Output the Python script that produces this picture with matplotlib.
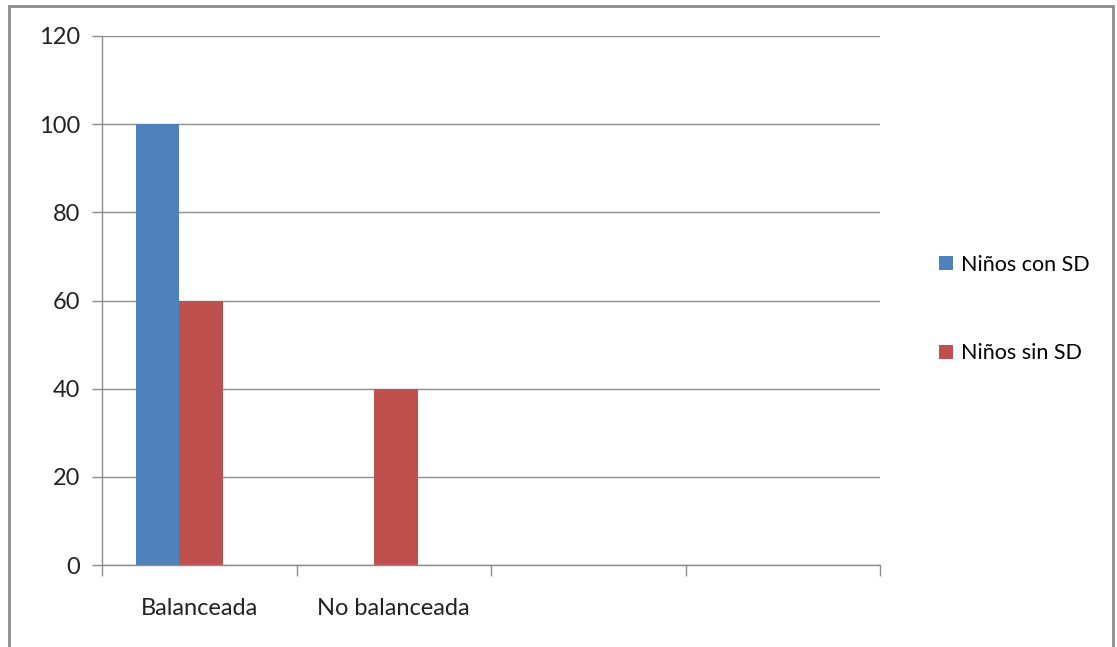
import numpy as np
import matplotlib.pyplot as plt
from matplotlib.patches import Rectangle

categories = ["Balanceada", "No balanceada", "", ""]
con_sd = [100, 0, 0, 0]
sin_sd = [60, 40, 0, 0]
series_names = ["Niños con SD", "Niños sin SD"]
yticks = [0, 20, 40, 60, 80, 100, 120]

blue = "#4f81bd"
red = "#c0504d"
grey = "#8c8c8c"

plt.rcParams['font.family'] = ['Lato', 'DejaVu Sans']

fig = plt.figure(figsize=(11.17, 6.47), dpi=100)
W, H = 1117, 647
ax = fig.add_axes([102 / W, 1 - 565 / H, (880 - 102) / W, (565 - 36) / H])

x = np.arange(len(categories))
w = 0.225
b1 = ax.bar(x - w + 0.01, con_sd, w, color=blue, align='center', label=series_names[0])
b2 = ax.bar(x + 0.01, sin_sd, w, color=red, align='center', label=series_names[1])

ax.set_xlim(-0.5, len(categories) - 0.5)
ax.set_ylim(0, 120)
ax.set_yticks(yticks)
ax.set_yticklabels([str(v) for v in yticks], fontsize=17, color="#222222")
ax.yaxis.grid(True, color=grey, lw=1)
ax.set_axisbelow(True)

# category ticks on boundaries, labels centered
ax.set_xticks(np.arange(len(categories) + 1) - 0.5)
ax.set_xticklabels([])
ax.set_xticks(x, minor=True)
ax.set_xticklabels(categories, minor=True, fontsize=17, color="#222222")
ax.tick_params(axis='x', which='minor', length=0, pad=24)
ax.tick_params(axis='x', which='major', length=8, color=grey, width=1)
ax.tick_params(axis='y', length=7, color=grey, width=1, pad=9)

for s in ['top', 'right']:
    ax.spines[s].set_visible(False)
for s in ['left', 'bottom']:
    ax.spines[s].set_color(grey)
    ax.spines[s].set_linewidth(1)

fig.legend(handles=[b1, b2], labels=series_names, loc='center left',
           bbox_to_anchor=(928 / W, 1 - 309 / H), frameon=False, fontsize=15.5,
           handlelength=0.65, handleheight=0.65, handletextpad=0.4,
           labelspacing=3.2, borderpad=0)

fig.patches.append(Rectangle((9 / W, -0.1), (1113 - 9) / W, 1 - 6 / H + 0.1,
                             transform=fig.transFigure, fill=False,
                             edgecolor=grey, lw=2))

fig.savefig("out.png", dpi=100)
